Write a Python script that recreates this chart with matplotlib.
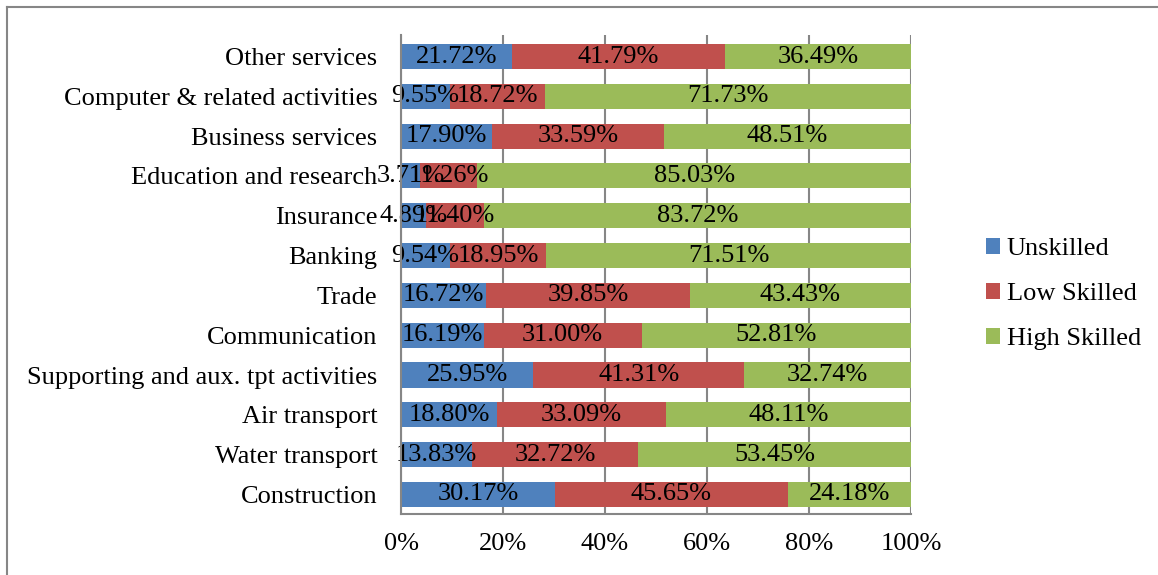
import matplotlib
matplotlib.use("Agg")
import matplotlib.pyplot as plt
from matplotlib.lines import Line2D
import numpy as np

categories = ["Construction", "Water transport", "Air transport",
              "Supporting and aux. tpt activities", "Communication", "Trade",
              "Banking", "Insurance", "Education and research",
              "Business services", "Computer & related activities", "Other services"]
unskilled = [30.17, 13.83, 18.80, 25.95, 16.19, 16.72, 9.54, 4.89, 3.71, 17.90, 9.55, 21.72]
low_skilled = [45.65, 32.72, 33.09, 41.31, 31.00, 39.85, 18.95, 11.40, 11.26, 33.59, 18.72, 41.79]
high_skilled = [24.18, 53.45, 48.11, 32.74, 52.81, 43.43, 71.51, 83.72, 85.03, 48.51, 71.73, 36.49]
series_names = ["Unskilled", "Low Skilled", "High Skilled"]
colors = ["#4F81BD", "#C0504D", "#9BBB59"]
xticks = [0, 20, 40, 60, 80, 100]
xtick_labels = ["0%", "20%", "40%", "60%", "80%", "100%"]

plt.rcParams['font.family'] = ['Liberation Serif', 'DejaVu Serif']
FS = 19

fig = plt.figure(figsize=(11.58, 5.75), dpi=100)
ax = fig.add_axes([401/1158, 1-514/575, 510/1158, (514-35)/575])

y = np.arange(len(categories))
left = np.zeros(len(categories))
for vals, name, c in zip([unskilled, low_skilled, high_skilled], series_names, colors):
    bars = ax.barh(y, vals, left=left, height=0.63, color=c, label=name, zorder=3)
    ax.bar_label(bars, labels=[f"{v:.2f}%" for v in vals], label_type='center',
                 fontsize=FS, color='black', zorder=4)
    left = left + np.array(vals)

ax.set_xlim(0, 100)
ax.set_ylim(-0.49, 11.54)
ax.set_yticks(y)
ax.set_yticklabels(categories, fontsize=FS)
ax.set_xticks(xticks)
ax.set_xticklabels(xtick_labels, fontsize=FS)
ax.tick_params(axis='y', length=0, pad=17)
ax.tick_params(axis='x', length=0, pad=14)
ax.grid(axis='x', color='#868686', linewidth=1.5, zorder=0)
for s in ['top', 'right']:
    ax.spines[s].set_visible(False)
for s in ['left', 'bottom']:
    ax.spines[s].set_color('#868686')
    ax.spines[s].set_linewidth(1.5)
    ax.spines[s].set_zorder(5)

handles, labels = ax.get_legend_handles_labels()
leg = fig.legend(handles, labels, loc='center left', bbox_to_anchor=(975/1158, 1-294/575),
                 frameon=False, fontsize=FS, handlelength=0.55, handleheight=0.55,
                 handletextpad=0.25, labelspacing=0.87, borderaxespad=0)

# outer border (top and left visible)
fig.add_artist(Line2D([7/1158, 1], [1-7/575, 1-7/575], transform=fig.transFigure,
                      color='#868686', linewidth=1.5))
fig.add_artist(Line2D([7/1158, 7/1158], [1-7/575, 0], transform=fig.transFigure,
                      color='#868686', linewidth=1.5))

fig.savefig("out.png", dpi=100)
